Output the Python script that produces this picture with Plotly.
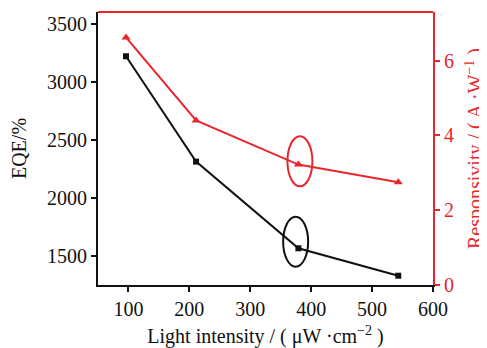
import plotly.graph_objects as go

# Data
light_intensity = [96, 211, 379, 543]
eqe = [3219, 2312, 1566, 1330]
responsivity = [6.62, 4.40, 3.22, 2.75]

x_ticks = [100, 200, 300, 400, 500, 600]
eqe_ticks = [1500, 2000, 2500, 3000, 3500]
resp_ticks = [0, 2, 4, 6]

RED = "#e8262d"
BLACK = "#111111"
FONT = "Liberation Serif"

fig = go.Figure()
fig.add_trace(go.Scatter(
    x=light_intensity, y=eqe, mode="lines+markers",
    line=dict(color=BLACK, width=2),
    marker=dict(symbol="square", size=6, color=BLACK),
    showlegend=False,
))
fig.add_trace(go.Scatter(
    x=light_intensity, y=responsivity, mode="lines+markers", yaxis="y2",
    line=dict(color=RED, width=2),
    marker=dict(symbol="triangle-up", size=8, color=RED),
    showlegend=False,
))

# ellipses marking series
fig.add_shape(type="circle", xref="x", yref="y", x0=354, x1=395, y0=1408, y1=1838,
              line=dict(color=BLACK, width=2))
fig.add_shape(type="circle", xref="x", yref="y2", x0=361, x1=402, y0=2.64, y1=3.98,
              line=dict(color=RED, width=2))
# top frame line (red)
fig.add_shape(type="line", xref="paper", yref="paper", x0=0, x1=1, y0=1, y1=1,
              line=dict(color=RED, width=2))

# page body has an 8px default margin, so the figure is sized to fit the window
fig.update_layout(
    width=479, height=340,
    margin=dict(l=90, r=54, t=4, b=63),
    paper_bgcolor="white", plot_bgcolor="white",
    font=dict(family=FONT, size=20, color=BLACK),
    xaxis=dict(
        range=[50, 600], tickvals=x_ticks, showgrid=False, zeroline=False,
        showline=True, linecolor=BLACK, linewidth=2, automargin=False,
        ticks="outside", ticklen=5, tickwidth=1.5, tickcolor=BLACK,
        tickfont=dict(family=FONT, size=20),
        title=dict(text="Light intensity / ( μW ·cm<sup>−2</sup> )", standoff=20,
                   font=dict(family=FONT, size=20)),
    ),
    yaxis=dict(
        range=[1250, 3600], tickvals=eqe_ticks, showgrid=False, zeroline=False,
        showline=True, linecolor=BLACK, linewidth=2, automargin=False,
        ticks="outside", ticklen=5, tickwidth=1.5, tickcolor=BLACK,
        tickfont=dict(family=FONT, size=20),
        title=dict(text="EQE/%", standoff=19, font=dict(family=FONT, size=20)),
    ),
    yaxis2=dict(
        range=[0, 7.3], tickvals=resp_ticks, overlaying="y", side="right",
        showgrid=False, zeroline=False, automargin=False,
        showline=True, linecolor=RED, linewidth=2,
        ticks="outside", ticklen=5, tickwidth=1.5, tickcolor=RED,
        tickfont=dict(family=FONT, size=20, color=RED),
        title=dict(text="Responsivity / ( A ·W<sup>−1</sup> )", standoff=24,
                   font=dict(family=FONT, size=20, color=RED)),
    ),
)

fig.write_html("out.html")
